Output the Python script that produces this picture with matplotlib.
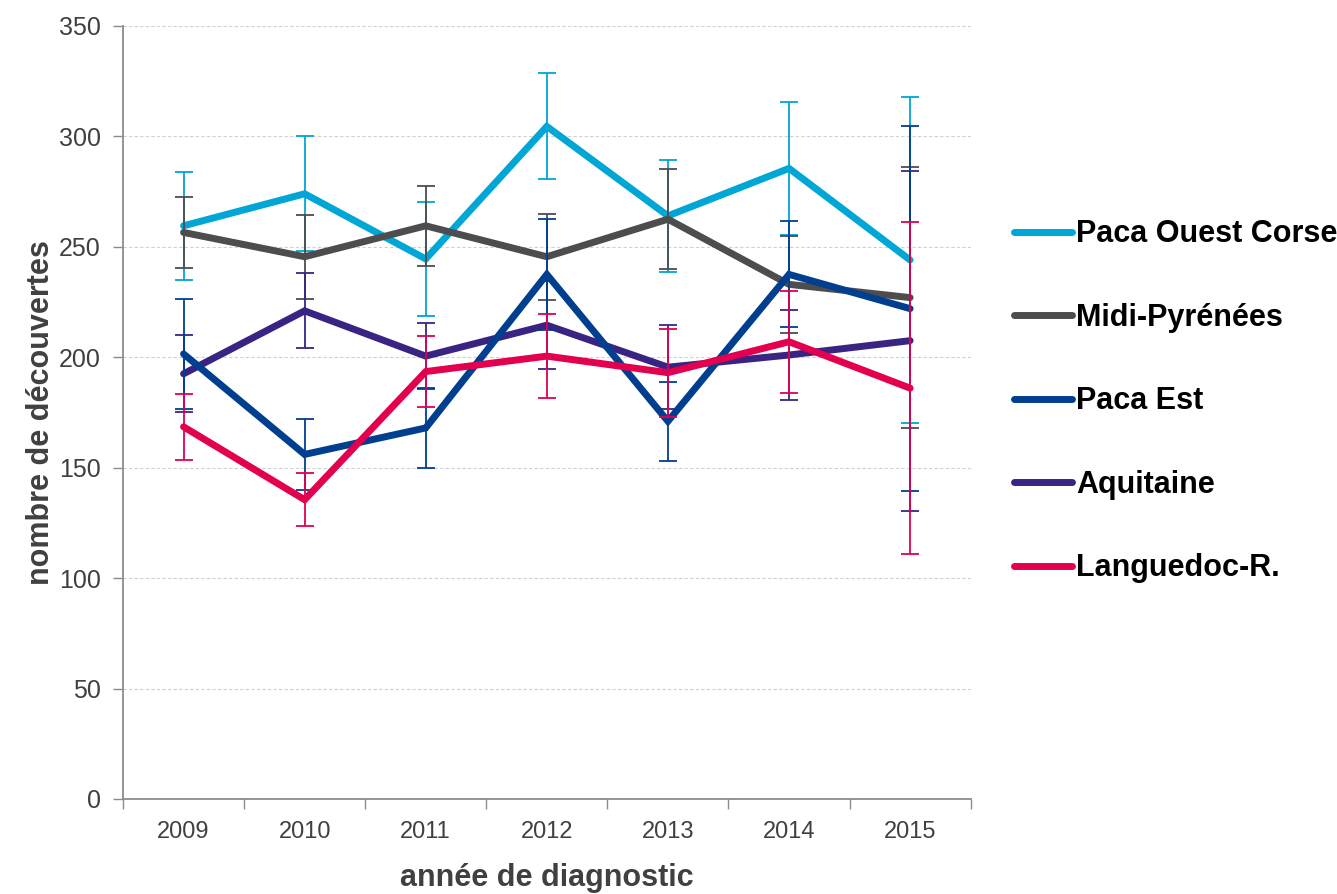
import matplotlib
matplotlib.use("Agg")
import matplotlib.pyplot as plt
import numpy as np

years = ["2009", "2010", "2011", "2012", "2013", "2014", "2015"]

paca_ouest = [259.5, 274, 244.5, 304.5, 264, 285.5, 244]
paca_ouest_err = [24.5, 26, 26, 24, 25.5, 30, 74]
midi = [256.5, 245.5, 259.5, 245.5, 262.5, 233, 227]
midi_err = [16, 19, 18, 19.5, 22.5, 22, 59]
paca_est = [201.5, 156, 168, 237.5, 171, 237.5, 222]
paca_est_err = [25, 16, 18, 25, 18, 24, 82.5]
aquitaine = [192.5, 221, 200.5, 214.5, 195.5, 201, 207.5]
aquitaine_err = [17.5, 17, 15, 20, 19, 20.5, 77]
languedoc = [168.5, 135.5, 193.5, 200.5, 193, 207, 186]
languedoc_err = [15, 12, 16, 19, 20, 23, 75]

series = [
    ("Paca Ouest Corse", paca_ouest, paca_ouest_err, "#00A6D6", 1),
    ("Midi-Pyrénées", midi, midi_err, "#4D4D4F", 2),
    ("Paca Est", paca_est, paca_est_err, "#003F8F", 4),
    ("Aquitaine", aquitaine, aquitaine_err, "#3A2483", 3),
    ("Languedoc-R.", languedoc, languedoc_err, "#E2004F", 5),
]

fonts = ["Liberation Sans", "DejaVu Sans"]

fig = plt.figure(figsize=(13.37, 8.94), dpi=100)
ax = fig.add_axes([0.092, 0.1063, 0.634, 0.8647])

x = np.arange(len(years))
handles = []
for name, vals, err, col, z in series:
    ax.errorbar(x, vals, yerr=err, fmt="none", ecolor=col, elinewidth=1.3,
                capsize=6.5, capthick=1.3, zorder=z)
    ln, = ax.plot(x, vals, color=col, lw=5, solid_capstyle="round",
                  solid_joinstyle="miter", zorder=z + 0.5, label=name)
    handles.append(ln)

ax.set_xlim(-0.5, len(years) - 0.5)
ax.set_ylim(0, 350)
ax.set_yticks(np.arange(0, 351, 50))
ax.yaxis.grid(True, linestyle=(0, (3, 2)), color="#D0D0D0", lw=0.8)
ax.set_axisbelow(True)

ax.set_xticks(x)
ax.set_xticklabels(years, fontsize=17, family=fonts, color="#404040")
ax.set_xticks(np.arange(-0.5, len(years)), minor=True)
ax.tick_params(axis="x", which="major", length=0, pad=16)
ax.tick_params(axis="x", which="minor", length=7, width=1, color="#8C8C8C",
               direction="out")
ax.tick_params(axis="y", length=7, width=1, color="#8C8C8C", pad=9)
for lbl in ax.get_yticklabels():
    lbl.set_fontsize(18)
    lbl.set_family(fonts)
    lbl.set_color("#404040")

for s in ["top", "right"]:
    ax.spines[s].set_visible(False)
for s in ["left", "bottom"]:
    ax.spines[s].set_color("#8C8C8C")
    ax.spines[s].set_linewidth(1.3)

ax.set_xlabel("année de diagnostic", fontsize=22, fontweight="bold",
              family=fonts, color="#404040", labelpad=14)
ax.set_ylabel("nombre de découvertes", fontsize=22, fontweight="bold",
              family=fonts, color="#404040", labelpad=2)

fig.legend(handles=handles, loc="center left", bbox_to_anchor=(0.738, 0.551),
           frameon=False, handlelength=1.9, handletextpad=0.12,
           labelspacing=1.75, prop={"family": fonts, "weight": "bold", "size": 22})

plt.savefig("out.png", dpi=100)
plt.close(fig)
